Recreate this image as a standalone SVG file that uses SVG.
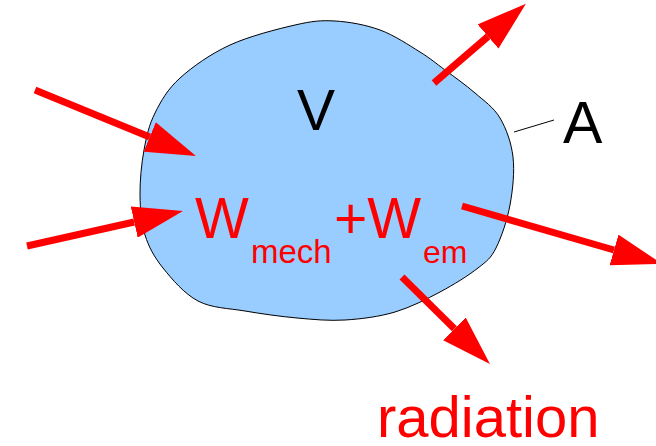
<svg xmlns="http://www.w3.org/2000/svg" width="656" height="446" viewBox="0 0 656 446">
<style>
.txt{font-family:"Liberation Sans",Arial,sans-serif}
.red{fill:#ff0000}
.blk{fill:#000000}
.arrow{stroke:#ff0000;stroke-width:7;fill:none;marker-end:url(#head)}
</style>
<defs>
<marker id="head" markerUnits="userSpaceOnUse" markerWidth="50" markerHeight="32" refX="0" refY="16" orient="auto" viewBox="0 0 50 32">
<path d="M0,0 L50,16 L0,32 Z" fill="#ff0000"/>
</marker>
</defs>
<rect width="656" height="446" fill="#ffffff"/>
<g id="volume">
<path d="M198,301 C184.3,293.8 171.8,279 163,268 C154.2,257 148.8,247.2 145,235 C141.2,222.8 140.2,209.2 140,195 C139.8,180.8 141.5,163.7 144,150 C146.5,136.3 149,125 155,113 C161,101 167.5,89.3 180,78 C192.5,66.7 210.8,53.8 230,45 C249.2,36.2 277.5,29 295,25 C312.5,21 320.8,20.2 335,21 C349.2,21.8 365.8,24.8 380,30 C394.2,35.2 409.2,45.3 420,52 C430.8,58.7 435.8,63.2 445,70 C454.2,76.8 465.8,85 475,93 C484.2,101 493.7,107.3 500,118 C506.3,128.7 511.3,142.5 513,157 C514.7,171.5 512.8,189.8 510,205 C507.2,220.2 501.3,237.5 496,248 C490.7,258.5 487.3,260.7 478,268 C468.7,275.3 453.8,284.7 440,292 C426.2,299.3 410.8,307.3 395,312 C379.2,316.7 361.3,319 345,320 C328.7,321 313.7,319.5 297,318 C280.3,316.5 261.5,313.8 245,311 C228.5,308.2 211.7,308.2 198,301 Z" fill="#99ccff" stroke="#000000" stroke-width="1"/>
<text class="txt blk" x="297" y="130" font-size="57">V</text>
</g>
<g id="surface">
<line x1="514" y1="132" x2="554" y2="120" stroke="#000000" stroke-width="1"/>
<text class="txt blk" x="563" y="143" font-size="59">A</text>
</g>
<g id="energy">
<text class="txt red" x="195" y="238" font-size="57">W</text>
<text class="txt red" x="251" y="263" font-size="33">mech</text>
<text class="txt red" x="334" y="238" font-size="57">+W</text>
<text class="txt red" x="423" y="263" font-size="32">em</text>
</g>
<g id="radiation-label">
<text class="txt red" x="377" y="437" font-size="58">radiation</text>
</g>
<g id="connectors">
<line class="arrow" x1="35" y1="90" x2="149.7" y2="137"/>
<line class="arrow" x1="27" y1="246" x2="134.2" y2="222"/>
<line class="arrow" x1="434" y1="83" x2="488" y2="36.5"/>
<line class="arrow" x1="462" y1="206" x2="614" y2="250"/>
<line class="arrow" x1="402" y1="277" x2="454.4" y2="328.8"/>
</g>
</svg>
